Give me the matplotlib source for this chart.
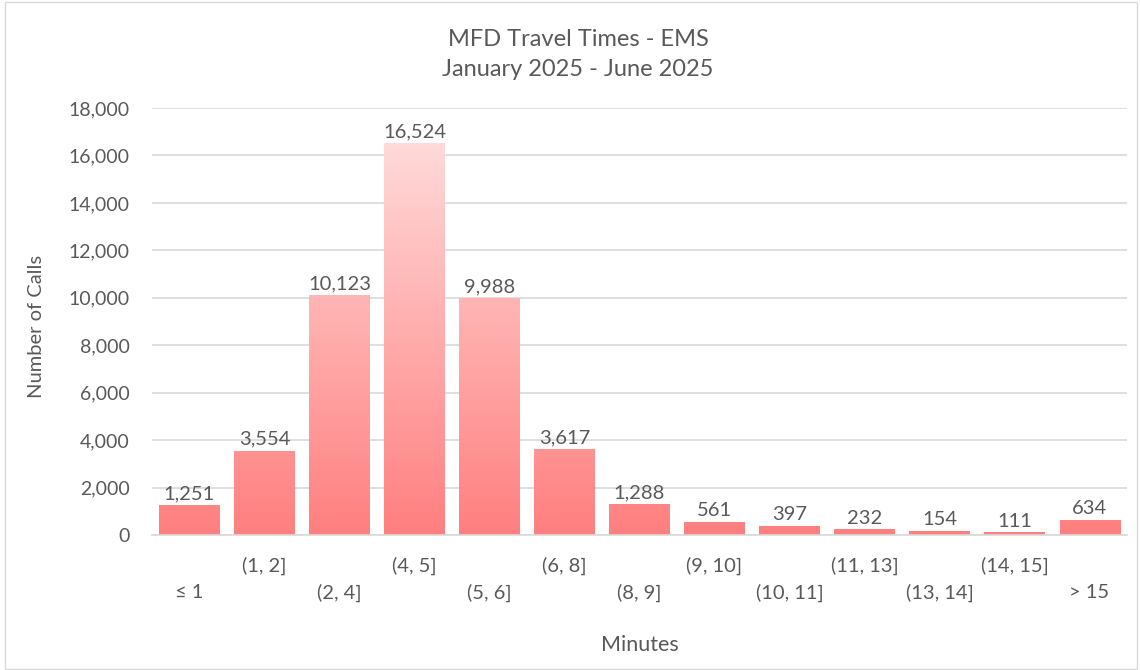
import numpy as np
import matplotlib.pyplot as plt
import matplotlib.transforms as mtransforms
from matplotlib.colors import LinearSegmentedColormap
from matplotlib.patches import Rectangle

plt.rcParams['font.family'] = ['Lato', 'DejaVu Sans']

categories = ['≤ 1', '(1, 2]', '(2, 4]', '(4, 5]', '(5, 6]', '(6, 8]', '(8, 9]',
              '(9, 10]', '(10, 11]', '(11, 13]', '(13, 14]', '(14, 15]', '> 15']
calls = [1251, 3554, 10123, 16524, 9988, 3617, 1288, 561, 397, 232, 154, 111, 634]

grey = '#595959'

fig = plt.figure(figsize=(11.4, 6.7), dpi=100)
ax = fig.add_axes([0.1333, 0.2015, 0.8553, 0.6373])

x = np.arange(len(categories))
bars = ax.bar(x, calls, width=0.8, color='none', edgecolor='none', zorder=2)

# vertical gradient, same scale for every bar
cmap = LinearSegmentedColormap.from_list('pinks', ['#FF7F7F', '#FFDADA'])
grad = np.linspace(0, 1, 256).reshape(-1, 1)
for b in bars:
    im = ax.imshow(grad, cmap=cmap, aspect='auto', origin='lower',
                   extent=[b.get_x(), b.get_x() + b.get_width(), 0, 16700],
                   zorder=2, vmin=0, vmax=1)
    im.set_clip_path(b)

for xi, v in zip(x, calls):
    ax.text(xi, v + 120, f'{v:,}', ha='center', va='bottom', fontsize=14.5, color=grey)

ax.set_xlim(-0.5, len(categories) - 0.5)
ax.set_ylim(0, 18000)
ax.set_yticks(np.arange(0, 18001, 2000))
ax.set_yticklabels([f'{t:,}' for t in range(0, 18001, 2000)], fontsize=14, color=grey)
ax.yaxis.grid(True, color='#D9D9D9', linewidth=1.2, zorder=0)
ax.set_axisbelow(True)
ax.tick_params(axis='y', length=0, pad=16)
ax.set_xticks([])
for s in ['top', 'right', 'left']:
    ax.spines[s].set_visible(False)
ax.spines['bottom'].set_color('#D9D9D9')
ax.spines['bottom'].set_linewidth(1.2)

# staggered category labels
trans = mtransforms.blended_transform_factory(ax.transData, fig.transFigure)
for i, lab in enumerate(categories):
    ypos = 1 - 593 / 670 if i % 2 == 0 else 1 - 566 / 670
    ax.text(i, ypos, lab, transform=trans, ha='center', va='center',
            fontsize=14.5, color=grey)

fig.text(37 / 1140, 1 - 326 / 670, 'Number of Calls', rotation=90, ha='center',
         va='center', fontsize=14.5, color=grey)
fig.text(640 / 1140, 1 - 645 / 670, 'Minutes', ha='center', va='center',
         fontsize=15.5, color=grey)
fig.text(578 / 1140, 1 - 40 / 670, 'MFD Travel Times - EMS', ha='center', va='center',
         fontsize=17, color=grey)
fig.text(578 / 1140, 1 - 70 / 670, 'January 2025 - June 2025', ha='center', va='center',
         fontsize=17, color=grey)

fig.patches.append(Rectangle((0.004, 0.002), 0.993, 0.995, transform=fig.transFigure,
                             fill=False, edgecolor='#D9D9D9', linewidth=1))

fig.savefig('out.png', dpi=100)
